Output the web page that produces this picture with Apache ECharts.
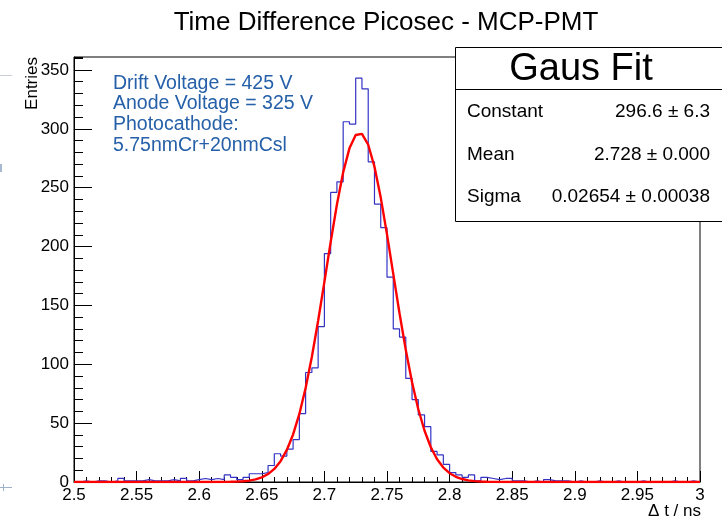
<!DOCTYPE html>
<html>
<head>
<meta charset="utf-8">
<title>Time Difference Picosec - MCP-PMT</title>
<script src="https://cdn.jsdelivr.net/npm/echarts@6/dist/echarts.min.js"></script>
<style>
  html, body { margin: 0; padding: 0; background: #fff; }
  #main { width: 722px; height: 519px; }
</style>
</head>
<body>
<div id="main"></div>
<script>
  // histogram: 100 bins of 0.005 ns from 2.5 to 3.0
  var binLow = 2.5;
  var binWidth = 0.005;
  var binCounts = [
    0, 1, 0, 1, 1, 0, 1, 3, 1, 1,
    1, 2, 1, 1, 1, 2, 1, 3, 1, 2,
    3, 2, 3, 2, 6, 4, 2, 4, 7, 7,
    8, 14, 24, 22, 28, 36, 58, 93, 97, 132,
    194, 246, 255, 306, 304, 343, 334, 272, 236, 216,
    174, 130, 123, 88, 70, 57, 47, 26, 23, 15,
    8, 6, 4, 6, 1, 4, 3, 2, 3, 3,
    1, 1, 0, 1, 0, 2, 1, 1, 1, 0,
    1, 0, 0, 1, 0, 0, 1, 0, 0, 0,
    1, 0, 0, 0, 0, 1, 0, 0, 1, 0
  ];

  // gaus fit results (stat box)
  var fitNames = ['Constant', 'Mean', 'Sigma'];
  var fitTexts = ['296.6 \u00b1 6.3', '2.728 \u00b1 0.000', '0.02654 \u00b1 0.00038'];
  var fitConstant = 296.6;
  var fitMean = 2.728;
  var fitSigma = 0.02654;

  // annotation lines
  var infoLines = ['Drift Voltage = 425 V', 'Anode Voltage = 325 V', 'Photocathode:', '5.75nmCr+20nmCsl'];

  var xMin = 2.5, xMax = 3.0, xStep = 0.05;
  var yMin = 0, yMax = 361, yStep = 50;

  var font = '"Liberation Sans", Arial, Helvetica, sans-serif';

  // histogram as step line (left edge of each bin + closing edge)
  var histData = [];
  for (var i = 0; i < binCounts.length; i++) {
    histData.push([binLow + i * binWidth, binCounts[i]]);
  }
  histData.push([binLow + binCounts.length * binWidth, binCounts[binCounts.length - 1]]);

  // fit curve from the fit parameters, 100 points like TF1 default
  var fitData = [];
  for (var k = 0; k <= 100; k++) {
    var x = xMin + (xMax - xMin) * k / 100;
    var z = (x - fitMean) / fitSigma;
    fitData.push([x, fitConstant * Math.exp(-0.5 * z * z)]);
  }

  var chart = echarts.init(document.getElementById('main'), null, { renderer: 'canvas' });

  var graphics = [
    // title
    {
      type: 'text', z: 50,
      style: { text: 'Time Difference Picosec - MCP-PMT', x: 386, y: 23, align: 'center', verticalAlign: 'middle',
        textAlign: 'center', textVerticalAlign: 'middle', font: '26px ' + font, fill: '#000' }
    },
    // axis titles
    {
      type: 'text', z: 50, x: 32, y: 57, rotation: Math.PI / 2,
      style: { text: 'Entries', align: 'right', verticalAlign: 'middle',
        textAlign: 'right', textVerticalAlign: 'middle', font: '17px ' + font, fill: '#000' }
    },
    {
      type: 'text', z: 50,
      style: { text: '\u0394 t / ns', x: 701, y: 511, align: 'right', verticalAlign: 'middle',
        textAlign: 'right', textVerticalAlign: 'middle', font: '17px ' + font, fill: '#000' }
    },
    // stat box
    {
      type: 'rect', z: 100, zlevel: 1,
      shape: { x: 455.5, y: 47.5, width: 280, height: 174 },
      style: { fill: '#fff', stroke: '#000', lineWidth: 1 }
    },
    {
      type: 'line', z: 101, zlevel: 1,
      shape: { x1: 455.5, y1: 89.5, x2: 722, y2: 89.5 },
      style: { stroke: '#000', lineWidth: 1 }
    },
    {
      type: 'text', z: 102, zlevel: 1,
      style: { text: 'Gaus Fit', x: 581, y: 70, align: 'center', verticalAlign: 'middle',
        textAlign: 'center', textVerticalAlign: 'middle', font: '38px ' + font, fill: '#000' }
    },
    // left edge bits from the screenshot
    { type: 'line', z: 50, shape: { x1: 0, y1: 75.5, x2: 12, y2: 75.5 }, style: { stroke: '#c9ced6', lineWidth: 1 } },
    { type: 'rect', z: 50, shape: { x: 0, y: 164, width: 2, height: 8 }, style: { fill: '#a8b8d0' } },
    { type: 'line', z: 50, shape: { x1: 0, y1: 487.5, x2: 12, y2: 487.5 }, style: { stroke: '#9fb1cc', lineWidth: 1 } },
    { type: 'line', z: 50, shape: { x1: 3.5, y1: 484, x2: 3.5, y2: 491 }, style: { stroke: '#9fb1cc', lineWidth: 1 } }
  ];

  var rowY = [112, 155, 197];
  for (var r = 0; r < fitNames.length; r++) {
    graphics.push({
      type: 'text', z: 102, zlevel: 1,
      style: { text: fitNames[r], x: 467, y: rowY[r], align: 'left', verticalAlign: 'middle',
        textAlign: 'left', textVerticalAlign: 'middle', font: '19px ' + font, fill: '#000' }
    });
    graphics.push({
      type: 'text', z: 102, zlevel: 1,
      style: { text: fitTexts[r], x: 710, y: rowY[r], align: 'right', verticalAlign: 'middle',
        textAlign: 'right', textVerticalAlign: 'middle', font: '19px ' + font, fill: '#000' }
    });
  }

  var infoY = [84, 104, 125, 146];
  for (var j = 0; j < infoLines.length; j++) {
    graphics.push({
      type: 'text', z: 50,
      style: { text: infoLines[j], x: 113, y: infoY[j], align: 'left', verticalAlign: 'middle',
        textAlign: 'left', textVerticalAlign: 'middle', font: '19.5px ' + font, fill: '#2560a8' }
    });
  }

  var option = {
    animation: false,
    backgroundColor: '#fff',
    grid: {
      left: 74,
      right: 22,
      top: 57,
      bottom: 37,
      show: true,
      borderColor: '#000',
      borderWidth: 1,
      outerBoundsMode: 'none',
      containLabel: false
    },
    xAxis: {
      type: 'value',
      min: xMin,
      max: xMax,
      interval: xStep,
      axisLine: { show: true, onZero: false, lineStyle: { color: '#000', width: 1 } },
      axisTick: { show: true, inside: true, length: 11, lineStyle: { color: '#000' } },
      minorTick: { show: true, splitNumber: 5, length: 5, lineStyle: { color: '#000' } },
      splitLine: { show: false },
      axisLabel: { color: '#000', fontSize: 17, fontFamily: font, margin: 5 }
    },
    yAxis: [{
        // major ticks + labels
        type: 'value',
        min: yMin,
        max: yMax,
        interval: yStep,
        position: 'left',
        axisLine: { show: true, lineStyle: { color: '#000', width: 1 } },
        axisTick: { show: true, inside: true, length: 18, lineStyle: { color: '#000' } },
        splitLine: { show: false },
        axisLabel: { color: '#000', fontSize: 17, fontFamily: font, margin: 5, showMaxLabel: false }
      },
      {
        // minor ticks every 10
        type: 'value',
        min: yMin,
        max: yMax,
        interval: 10,
        position: 'left',
        offset: 0,
        axisLine: { show: false },
        axisTick: { show: true, inside: true, length: 9, lineStyle: { color: '#000' } },
        splitLine: { show: false },
        axisLabel: { show: false }
      }
    ],
    series: [{
        name: 'hist',
        type: 'line',
        step: 'end',
        symbol: 'none',
        data: histData,
        lineStyle: { color: '#3434c4', width: 1.2 },
        z: 3
      },
      {
        name: 'gaus',
        type: 'line',
        symbol: 'none',
        data: fitData,
        lineStyle: { color: '#ff0000', width: 2.4 },
        z: 4
      }
    ],
    graphic: graphics
  };
  chart.setOption(option);
</script>
</body>
</html>
